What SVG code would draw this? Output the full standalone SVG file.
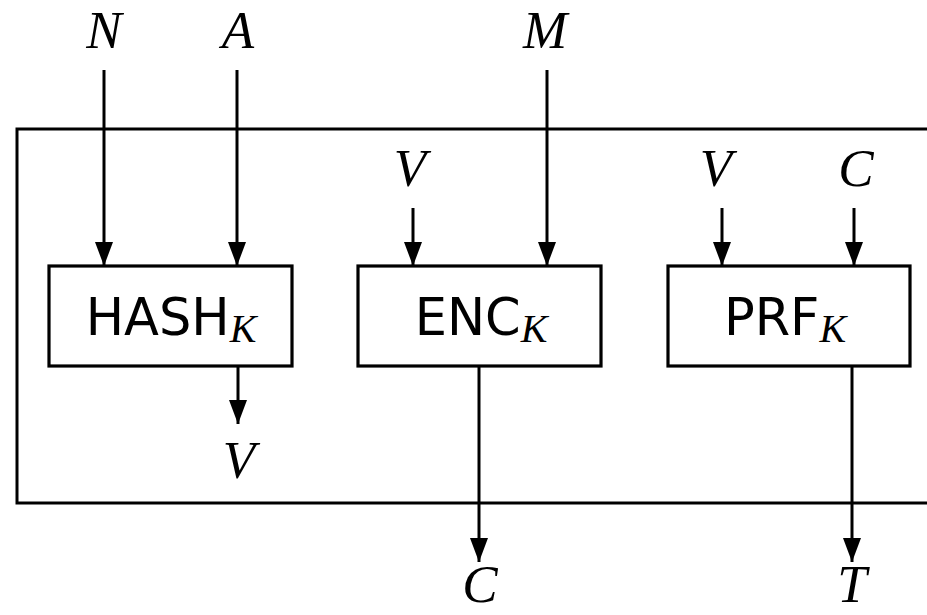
<svg xmlns="http://www.w3.org/2000/svg" width="927" height="615" viewBox="0 0 927 615">
<defs>
<marker id="arr" markerUnits="userSpaceOnUse" markerWidth="26" markerHeight="20" refX="24" refY="9" orient="auto">
<path d="M0,0 L24,9 L0,18 Z" fill="#000"/>
</marker>
<style>
.box{fill:#fff;stroke:#000;stroke-width:3.2}
.frame{fill:none;stroke:#000;stroke-width:3}
.con{stroke:#000;stroke-width:3;fill:none;marker-end:url(#arr)}
.math{font-family:"Liberation Serif",serif;font-style:italic;font-size:53px;fill:#000;text-anchor:middle}
.lbl{font-family:"DejaVu Sans",sans-serif;font-size:51px;fill:#000;text-anchor:middle}
.sub{font-family:"Liberation Serif",serif;font-style:italic;font-size:40px}
</style>
</defs>
<rect class="frame" x="17" y="129" width="930" height="374"/>
<g id="hash">
<rect class="box" x="49" y="266" width="243" height="100"/>
<text class="lbl" x="171" y="335">HASH<tspan class="sub" dy="7">K</tspan></text>
</g>
<g id="enc">
<rect class="box" x="358" y="266" width="243" height="100"/>
<text class="lbl" x="481" y="335">ENC<tspan class="sub" dy="7">K</tspan></text>
</g>
<g id="prf">
<rect class="box" x="668" y="266" width="242" height="100"/>
<text class="lbl" x="785" y="335">PRF<tspan class="sub" dy="7">K</tspan></text>
</g>
<g id="labels">
<text class="math" x="104" y="48">N</text>
<text class="math" x="238" y="48">A</text>
<text class="math" x="545" y="48">M</text>
<text class="math" x="410" y="186">V</text>
<text class="math" x="716" y="186">V</text>
<text class="math" x="856" y="186">C</text>
<text class="math" x="239" y="478">V</text>
<text class="math" x="480" y="602">C</text>
<text class="math" x="852" y="602">T</text>
</g>
<g id="connectors">
<line class="con" x1="104" y1="70" x2="104" y2="266"/>
<line class="con" x1="237" y1="70" x2="237" y2="266"/>
<line class="con" x1="547" y1="70" x2="547" y2="266"/>
<line class="con" x1="413" y1="208" x2="413" y2="266"/>
<line class="con" x1="722" y1="208" x2="722" y2="266"/>
<line class="con" x1="854" y1="208" x2="854" y2="266"/>
<line class="con" x1="238" y1="367" x2="238" y2="424"/>
<line class="con" x1="479" y1="367" x2="479" y2="562"/>
<line class="con" x1="852" y1="367" x2="852" y2="562"/>
</g>
</svg>
